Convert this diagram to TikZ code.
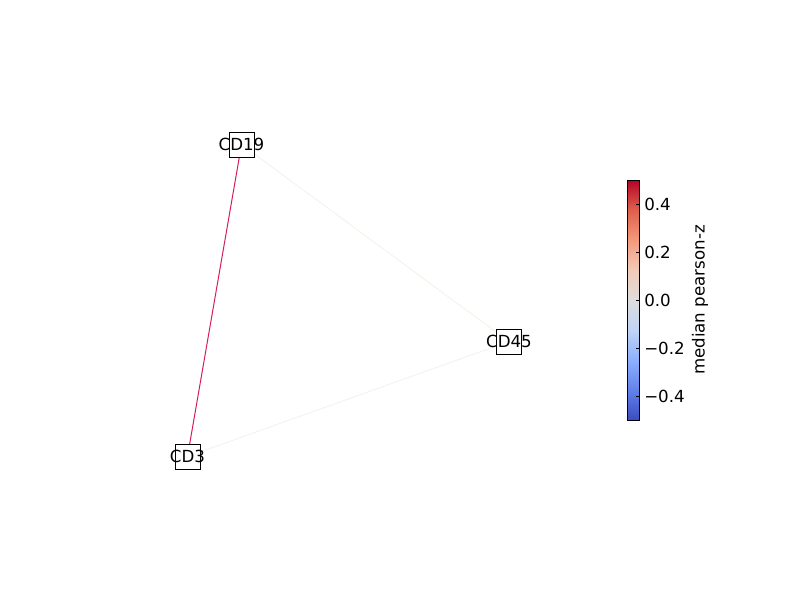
\documentclass[tikz,border=0pt]{standalone}
\usepackage{fontspec}
\setmainfont{DejaVu Sans}
\definecolor{cw0}{RGB}{59,76,192}
\definecolor{cw1}{RGB}{98,130,234}
\definecolor{cw2}{RGB}{141,176,254}
\definecolor{cw3}{RGB}{192,212,245}
\definecolor{cw4}{RGB}{221,221,221}
\definecolor{cw5}{RGB}{242,203,183}
\definecolor{cw6}{RGB}{244,154,123}
\definecolor{cw7}{RGB}{222,96,77}
\definecolor{cw8}{RGB}{180,4,38}
\definecolor{edgestrong}{RGB}{214,30,88}
\definecolor{edgefaint}{RGB}{248,242,236}
\pgfdeclareverticalshading{coolwarm}{100bp}{color(0bp)=(cw0); color(25bp)=(cw0); color(31.25bp)=(cw1); color(37.5bp)=(cw2); color(43.75bp)=(cw3); color(50bp)=(cw4); color(56.25bp)=(cw5); color(62.5bp)=(cw6); color(68.75bp)=(cw7); color(75bp)=(cw8); color(100bp)=(cw8)}
\tikzset{
  nodebox/.style={draw=black, fill=white, line width=0.75pt, minimum size=18.75pt, inner sep=0pt},
  nodetext/.style={font=\fontsize{12.5}{15}\selectfont, inner sep=0pt},
  ticklab/.style={font=\fontsize{12.5}{15}\selectfont, anchor=west, inner sep=0pt},
  edgeline/.style={line width=0.75pt}
}
\begin{document}
\begin{tikzpicture}[x=0.75pt,y=-0.75pt]
\useasboundingbox (0,0) rectangle (800,600);
% edges
\coordinate (p19) at (241.5,144.5);
\coordinate (p3) at (187.5,456.5);
\coordinate (p45) at (509,341.5);
\draw[edgeline, edgefaint] (p19) -- (p45);
\draw[edgeline, edgefaint] (p3) -- (p45);
\draw[edgeline, edgestrong] (p19) -- (p3);
% nodes
\node[nodebox] (b19) at (p19) {};
\node[nodebox] (b3) at (p3) {};
\node[nodebox] (b45) at (p45) {};
\node[nodetext] (t19) at (p19) {CD19};
\node[nodetext] (t3) at (p3) {CD3};
\node[nodetext] (t45) at (p45) {CD45};
% colorbar
\shade[shading=coolwarm] (627.5,180) rectangle (639.5,420);
\draw[line width=0.75pt] (627.5,180) rectangle (639.5,420);
\foreach \yy/\lab in {204/0.4, 252/0.2, 300/0.0, 348/−0.2, 396/−0.4} {
  \draw[line width=0.6pt] (639.5,\yy) -- (635.5,\yy);
  \node[ticklab] at (644,\yy) {\lab};
}
\node[font=\fontsize{12.5}{15}\selectfont, rotate=90, inner sep=0pt] (cblabel) at (700,300) {median pearson-z};
\end{tikzpicture}
\end{document}
